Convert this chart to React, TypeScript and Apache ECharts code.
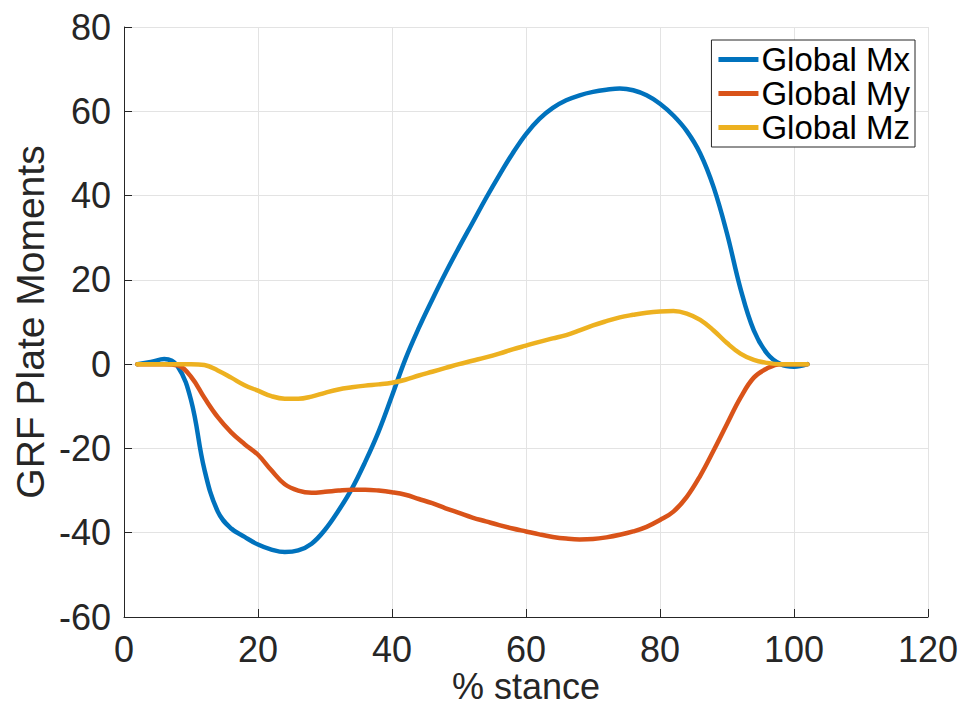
import React, { useEffect, useRef } from "react";
import * as echarts from "echarts";

// % stance sample positions
const stance = [
  2, 4, 6, 8, 10, 12, 14, 16, 18, 20, 22, 24, 26, 28, 30, 32, 34, 36, 38, 40,
  42, 44, 46, 48, 50, 52, 54, 56, 58, 60, 62, 64, 66, 68, 70, 72, 74, 76, 78,
  80, 82, 84, 86, 88, 90, 92, 94, 96, 98, 100, 102,
];

const globalMx = [
  0, 0.5, 1.2, -0.5, -8.5, -25, -35, -39, -41, -42.8, -44, -44.6, -44.2, -42.6,
  -39.3, -34.8, -29.6, -23.2, -16, -7.5, 1.2, 8.6, 15.3, 21.7, 27.7, 33.5, 39.3,
  44.8, 50, 54.6, 58.2, 60.8, 62.6, 63.8, 64.6, 65.1, 65.4, 65, 63.8, 61.8, 59,
  55.3, 50, 42, 31, 18, 8, 2.5, 0, -0.6, 0,
];

const globalMy = [
  0, 0, 0, -0.3, -3, -8, -12.6, -16.2, -19, -21.5, -25.2, -28.5, -30, -30.5,
  -30.3, -30, -29.8, -29.8, -30, -30.4, -31, -32, -33, -34.2, -35.3, -36.4,
  -37.3, -38.2, -39, -39.7, -40.4, -41, -41.4, -41.6, -41.5, -41.1, -40.5,
  -39.7, -38.6, -37, -35, -31.5, -26.5, -20.5, -14.2, -8, -3.2, -1, 0, 0, 0,
];

const globalMz = [
  0, 0, 0, 0, 0, -0.2, -1.5, -3.2, -5, -6.3, -7.6, -8.2, -8.2, -7.7, -6.8, -6,
  -5.5, -5.1, -4.8, -4.4, -3.7, -2.7, -1.8, -0.9, 0, 0.8, 1.6, 2.5, 3.5, 4.4,
  5.3, 6.1, 6.9, 8, 9.2, 10.2, 11.1, 11.7, 12.2, 12.5, 12.6, 12, 10.5, 8, 5,
  2.5, 1, 0.3, 0, 0, 0,
];

const seriesNames = ["Global Mx", "Global My", "Global Mz"];
const seriesColors = ["#0072BD", "#D95319", "#EDB120"];

const FONT = "'Liberation Sans', Arial, Helvetica, sans-serif";

export default function App() {
  const ref = useRef<HTMLDivElement>(null);

  useEffect(() => {
    if (!ref.current) return;
    const chart = echarts.init(ref.current, undefined, { renderer: "svg" });
    const values = [globalMx, globalMy, globalMz];

    chart.setOption({
      animation: false,
      backgroundColor: "#ffffff",
      textStyle: { fontFamily: FONT },
      grid: {
        left: 124,
        right: 36,
        top: 27,
        bottom: 89,
        containLabel: false,
        outerBoundsMode: "none",
      },
      legend: {
        data: seriesNames,
        orient: "vertical",
        right: 49,
        top: 40,
        icon: "rect",
        itemWidth: 40,
        itemHeight: 5,
        itemGap: 1,
        padding: [3, 5, 3, 7],
        borderColor: "#262626",
        borderWidth: 1,
        borderRadius: 0,
        backgroundColor: "#ffffff",
        textStyle: { fontSize: 33, color: "#000000", fontFamily: FONT, padding: [0, 0, 0, -2] },
      },
      xAxis: {
        type: "value",
        min: 0,
        max: 120,
        interval: 20,
        name: "% stance",
        nameLocation: "middle",
        nameGap: 51,
        nameMoveOverlap: false,
        nameTextStyle: { fontSize: 36, lineHeight: 36, color: "#262626" },
        axisLine: { show: true, onZero: false, lineStyle: { color: "#262626", width: 1 } },
        axisTick: { show: true, inside: true, length: 8, lineStyle: { color: "#262626" } },
        axisLabel: { fontSize: 36, lineHeight: 36, color: "#262626", margin: 14 },
        splitLine: { show: true, lineStyle: { color: "#e3e3e3", width: 1 } },
      },
      yAxis: {
        type: "value",
        min: -60,
        max: 80,
        interval: 20,
        name: "GRF Plate Moments",
        nameLocation: "middle",
        nameGap: 74,
        nameMoveOverlap: false,
        nameTextStyle: { fontSize: 39, color: "#262626" },
        axisLine: { show: true, onZero: false, lineStyle: { color: "#262626", width: 1 } },
        axisTick: { show: true, inside: true, length: 8, lineStyle: { color: "#262626" } },
        axisLabel: { fontSize: 36, color: "#262626", margin: 13 },
        splitLine: { show: true, lineStyle: { color: "#e3e3e3", width: 1 } },
      },
      series: seriesNames.map((name, i) => ({
        name,
        type: "line",
        data: stance.map((x, j) => [x, values[i][j]]),
        showSymbol: false,
        symbol: "none",
        smooth: 0.4,
        color: seriesColors[i],
        lineStyle: { width: 4.5, color: seriesColors[i], cap: "round", join: "round" },
        z: 2 + i,
      })),
    });

    return () => chart.dispose();
  }, []);

  return <div ref={ref} style={{ width: 964, height: 706, position: "absolute", left: 0, top: 0 }} />;
}
